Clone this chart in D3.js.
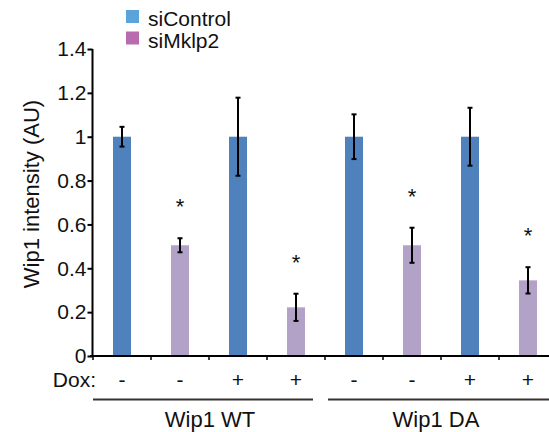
<!DOCTYPE html>
<html>
<head>
<meta charset="utf-8">
<script src="https://d3js.org/d3.v7.min.js"></script>
<style>
  body { margin: 0; background: #fff; }
  text { font-family: "Liberation Sans", Arial, sans-serif; fill: #111; }
</style>
</head>
<body>
<div id="chart"></div>
<script>
  // data
  var conditions = ["WT -", "WT si -", "WT +", "WT si +", "DA -", "DA si -", "DA +", "DA si +"];
  var series = ["siControl", "siMklp2", "siControl", "siMklp2", "siControl", "siMklp2", "siControl", "siMklp2"];
  var values = [1.0, 0.505, 1.0, 0.222, 1.0, 0.505, 1.0, 0.345];
  var errors = [0.045, 0.032, 0.178, 0.062, 0.102, 0.08, 0.132, 0.06];
  var significant = [false, true, false, true, false, true, false, true];
  var doxLabels = ["-", "-", "+", "+", "-", "-", "+", "+"];
  var groups = ["Wip1 WT", "Wip1 DA"];
  var yTicks = [0, 0.2, 0.4, 0.6, 0.8, 1.0, 1.2, 1.4];

  var width = 549, height = 432;
  var barColor = { siControl: "#4f81bd", siMklp2: "#b3a2c7" };
  var legendColor = { siControl: "#5ba3db", siMklp2: "#b86baf" };

  var svg = d3.select("#chart").append("svg")
              .attr("width", width)
              .attr("height", height);

  var x = d3.scaleBand()
            .domain(d3.range(values.length))
            .range([93, 557])
            .paddingInner(0.69)
            .paddingOuter(0.345);

  var y = d3.scaleLinear().domain([0, 1.4]).range([356, 49]);

  var cx = function(i){ return x(i) + x.bandwidth() / 2; };

  // bars
  svg.selectAll("rect.bar")
     .data(values)
     .enter()
     .append("rect")
     .attr("class", "bar")
     .attr("x", function(d, i){ return x(i); })
     .attr("width", x.bandwidth())
     .attr("y", function(d){ return y(d); })
     .attr("height", function(d){ return y(0) - y(d); })
     .attr("fill", function(d, i){ return barColor[series[i]]; });

  // error bars
  var eb = svg.append("g").attr("stroke", "#000").attr("stroke-width", 2);
  values.forEach(function(v, i){
    var top = y(v + errors[i]), bot = y(v - errors[i]);
    eb.append("line").attr("x1", cx(i)).attr("x2", cx(i)).attr("y1", top).attr("y2", bot);
    eb.append("line").attr("x1", cx(i) - 2.5).attr("x2", cx(i) + 2.5).attr("y1", top).attr("y2", top);
    eb.append("line").attr("x1", cx(i) - 2.5).attr("x2", cx(i) + 2.5).attr("y1", bot).attr("y2", bot);
  });

  // significance stars
  var starIdx = d3.range(values.length).filter(function(i){ return significant[i]; });
  svg.selectAll("text.star")
     .data(starIdx)
     .enter()
     .append("text")
     .attr("class", "star")
     .attr("x", function(i){ return cx(i); })
     .attr("y", function(i){ return y(values[i] + errors[i]) - 24; })
     .attr("text-anchor", "middle")
     .attr("font-size", 22)
     .text("*");

  // y axis
  var yAxis = d3.axisLeft(y)
                .tickValues(yTicks)
                .tickSize(5)
                .tickPadding(1)
                .tickFormat(function(d){ return String(+d.toFixed(1)); });
  var yg = svg.append("g").attr("transform", "translate(92.5,0)").call(yAxis);
  yg.select(".domain").attr("stroke-width", 2).attr("d", "M0,49V356");
  yg.selectAll(".tick line").attr("stroke-width", 2);
  yg.selectAll(".tick text").attr("font-size", 21).attr("font-family", "Liberation Sans, Arial, sans-serif").attr("fill", "#111");

  // x axis line with band boundary ticks
  svg.append("line")
     .attr("x1", 90).attr("x2", width)
     .attr("y1", 356).attr("y2", 356)
     .attr("stroke", "#000").attr("stroke-width", 2);
  svg.selectAll("line.xtick")
     .data(d3.range(values.length))
     .enter()
     .append("line")
     .attr("class", "xtick")
     .attr("x1", function(i){ return x(i) - x.step() * x.paddingInner() / 2; })
     .attr("x2", function(i){ return x(i) - x.step() * x.paddingInner() / 2; })
     .attr("y1", 356).attr("y2", 360)
     .attr("stroke", "#000").attr("stroke-width", 1.5);

  // Dox row
  svg.append("text")
     .attr("x", 96).attr("y", 387)
     .attr("text-anchor", "end")
     .attr("font-size", 21)
     .text("Dox:");
  svg.selectAll("text.dox")
     .data(doxLabels)
     .enter()
     .append("text")
     .attr("class", "dox")
     .attr("x", function(d, i){ return cx(i); })
     .attr("y", 387)
     .attr("text-anchor", "middle")
     .attr("font-size", 21)
     .text(function(d){ return d; });

  // group lines and labels
  var groupSpans = [[93, 313], [328, 557]];
  groupSpans.forEach(function(s){
    svg.append("line")
       .attr("x1", s[0]).attr("x2", s[1])
       .attr("y1", 399.5).attr("y2", 399.5)
       .attr("stroke", "#3a3030").attr("stroke-width", 2);
  });
  svg.selectAll("text.group")
     .data(groups)
     .enter()
     .append("text")
     .attr("class", "group")
     .attr("x", function(d, gi){ return (cx(gi * 4) + cx(gi * 4 + 3)) / 2 - (gi ? 5 : -1); })
     .attr("y", 427)
     .attr("text-anchor", "middle")
     .attr("font-size", 22)
     .text(function(d){ return d; });

  // y axis title
  svg.append("text")
     .attr("transform", "translate(39,194) rotate(-90)")
     .attr("text-anchor", "middle")
     .attr("font-size", 22)
     .text("Wip1 intensity (AU)");

  // legend
  var legendItems = ["siControl", "siMklp2"];
  var lg = svg.selectAll("g.legend")
              .data(legendItems)
              .enter()
              .append("g")
              .attr("class", "legend")
              .attr("transform", function(d, i){ return "translate(126," + (10 + i * 21.5) + ")"; });
  lg.append("rect")
    .attr("width", 13).attr("height", 13)
    .attr("fill", function(d){ return legendColor[d]; });
  lg.append("text")
    .attr("x", 22).attr("y", 16)
    .attr("font-size", 21)
    .text(function(d){ return d; });
</script>
</body>
</html>
